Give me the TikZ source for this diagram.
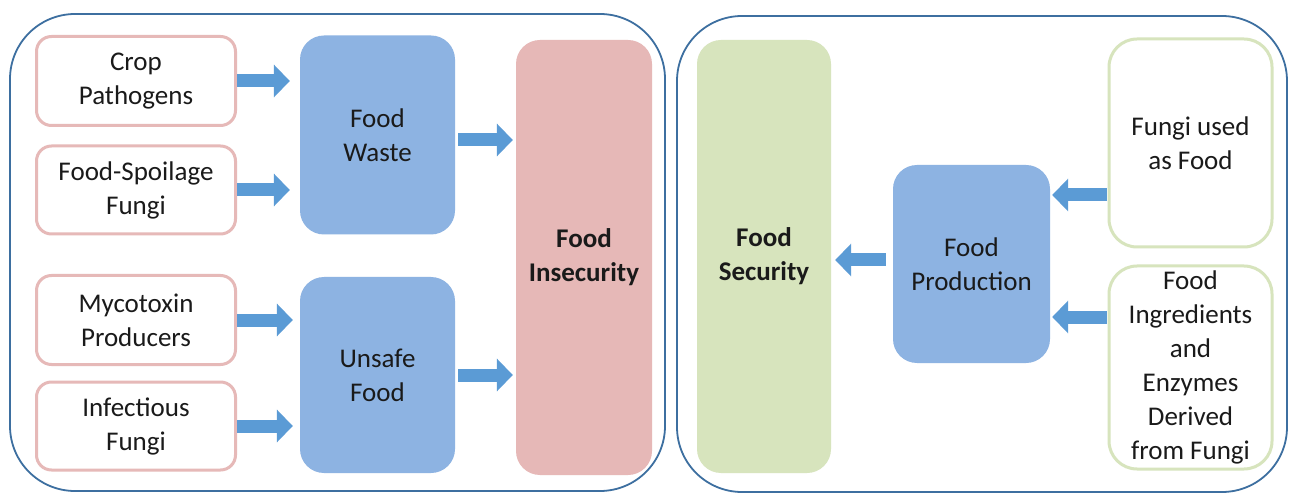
\documentclass[tikz,border=0pt]{standalone}
\usepackage{fontspec}
\setmainfont{Carlito}
\usetikzlibrary{arrows.meta}
\definecolor{pinkb}{HTML}{E6B9B8}
\definecolor{pinkf}{HTML}{E6B8B7}
\definecolor{bluef}{HTML}{8DB3E2}
\definecolor{greenf}{HTML}{D7E4BD}
\definecolor{greenb}{HTML}{D7E4BD}
\definecolor{arrowb}{HTML}{5B9BD5}
\definecolor{frameb}{HTML}{3D6FA0}
\definecolor{txt}{HTML}{1A1A1A}
\tikzset{
  base/.style={align=center, inner sep=0pt, text=txt, font=\fontsize{27}{34}\selectfont},
  src/.style={base, draw=pinkb, line width=3pt, rounded corners=15pt, fill=white},
  gsrc/.style={base, draw=greenb, line width=3pt, rounded corners=28pt, fill=white},
  bluebox/.style={base, fill=bluef, rounded corners=24pt},
  pinkbox/.style={base, fill=pinkf, rounded corners=24pt, font=\fontsize{27}{34}\selectfont\bfseries},
  greenbox/.style={base, fill=greenf, rounded corners=24pt, font=\fontsize{27}{34}\selectfont\bfseries},
  frame/.style={draw=frameb, line width=1.8pt, rounded corners=65pt},
  barrow/.style={draw=arrowb, line width=13pt, -{Triangle[length=16pt,width=32pt]}},
}
\begin{document}
\begin{tikzpicture}[x=1pt,y=-1pt]
\useasboundingbox (0,0) rectangle (1290,494);
\fill[white] (0,0) rectangle (1290,494);
% containers
\draw[frame] (10,14) rectangle (665,491);
\draw[frame] (677,16) rectangle (1287,492);
% left side
\node[src, minimum width=199pt, minimum height=89pt] (crop) at (136,81) {Crop\\Pathogens};
\node[src, minimum width=199pt, minimum height=88pt] (spoil) at (136,190) {Food-Spoilage\\Fungi};
\node[src, minimum width=199pt, minimum height=89pt] (myco) at (136,320) {Mycotoxin\\Producers};
\node[src, minimum width=199pt, minimum height=88pt] (infect) at (136,426) {Infectious\\Fungi};
\node[bluebox, minimum width=155pt, minimum height=199pt] (waste) at (377.5,135) {Food\\Waste};
\node[bluebox, minimum width=155pt, minimum height=196pt] (unsafe) at (377.5,375) {Unsafe\\Food};
\node[pinkbox, minimum width=136pt, minimum height=435pt] (insec) at (584,257.5) {Food\\Insecurity};
% right side
\node[greenbox, minimum width=134pt, minimum height=433pt] (secur) at (764,256.5) {Food\\Security};
\node[bluebox, minimum width=157pt, minimum height=198pt] (prod) at (971.5,264) {Food\\Production};
\node[gsrc, minimum width=163pt, minimum height=208pt] (fungi) at (1190.5,143) {Fungi used\\as Food};
\node[gsrc, minimum width=163pt, minimum height=203pt] (ingred) at (1190.5,367.5) {Food\\Ingredients\\and\\Enzymes\\Derived\\from Fungi};
% arrows left
\draw[barrow, shorten >=10pt] (crop.east) -- (waste.west |- crop.east);
\draw[barrow, shorten >=10pt] (spoil.east) -- (waste.west |- spoil.east);
\draw[barrow, shorten >=7pt] (myco.east) -- (unsafe.west |- myco.east);
\draw[barrow, shorten >=7pt] (infect.east) -- (unsafe.west |- infect.east);
\draw[barrow, shorten <=3pt, shorten >=3pt] ([yshift=-5pt]waste.east) -- ([yshift=-5pt]insec.west |- waste.east);
\draw[barrow, shorten <=3pt, shorten >=3pt] (unsafe.east) -- (insec.west |- unsafe.east);
% arrows right
\coordinate (f1) at (fungi.west |- 0,195);
\coordinate (f2) at (ingred.west |- 0,317);
\draw[barrow, shorten <=1pt, shorten >=2pt] (f1) -- (prod.east |- f1);
\draw[barrow, shorten <=1pt, shorten >=2pt] (f2) -- (prod.east |- f2);
\draw[barrow, shorten <=7pt, shorten >=4pt] ([yshift=4pt]prod.west) -- ([yshift=4pt]secur.east |- prod.west);
\end{tikzpicture}
\end{document}
